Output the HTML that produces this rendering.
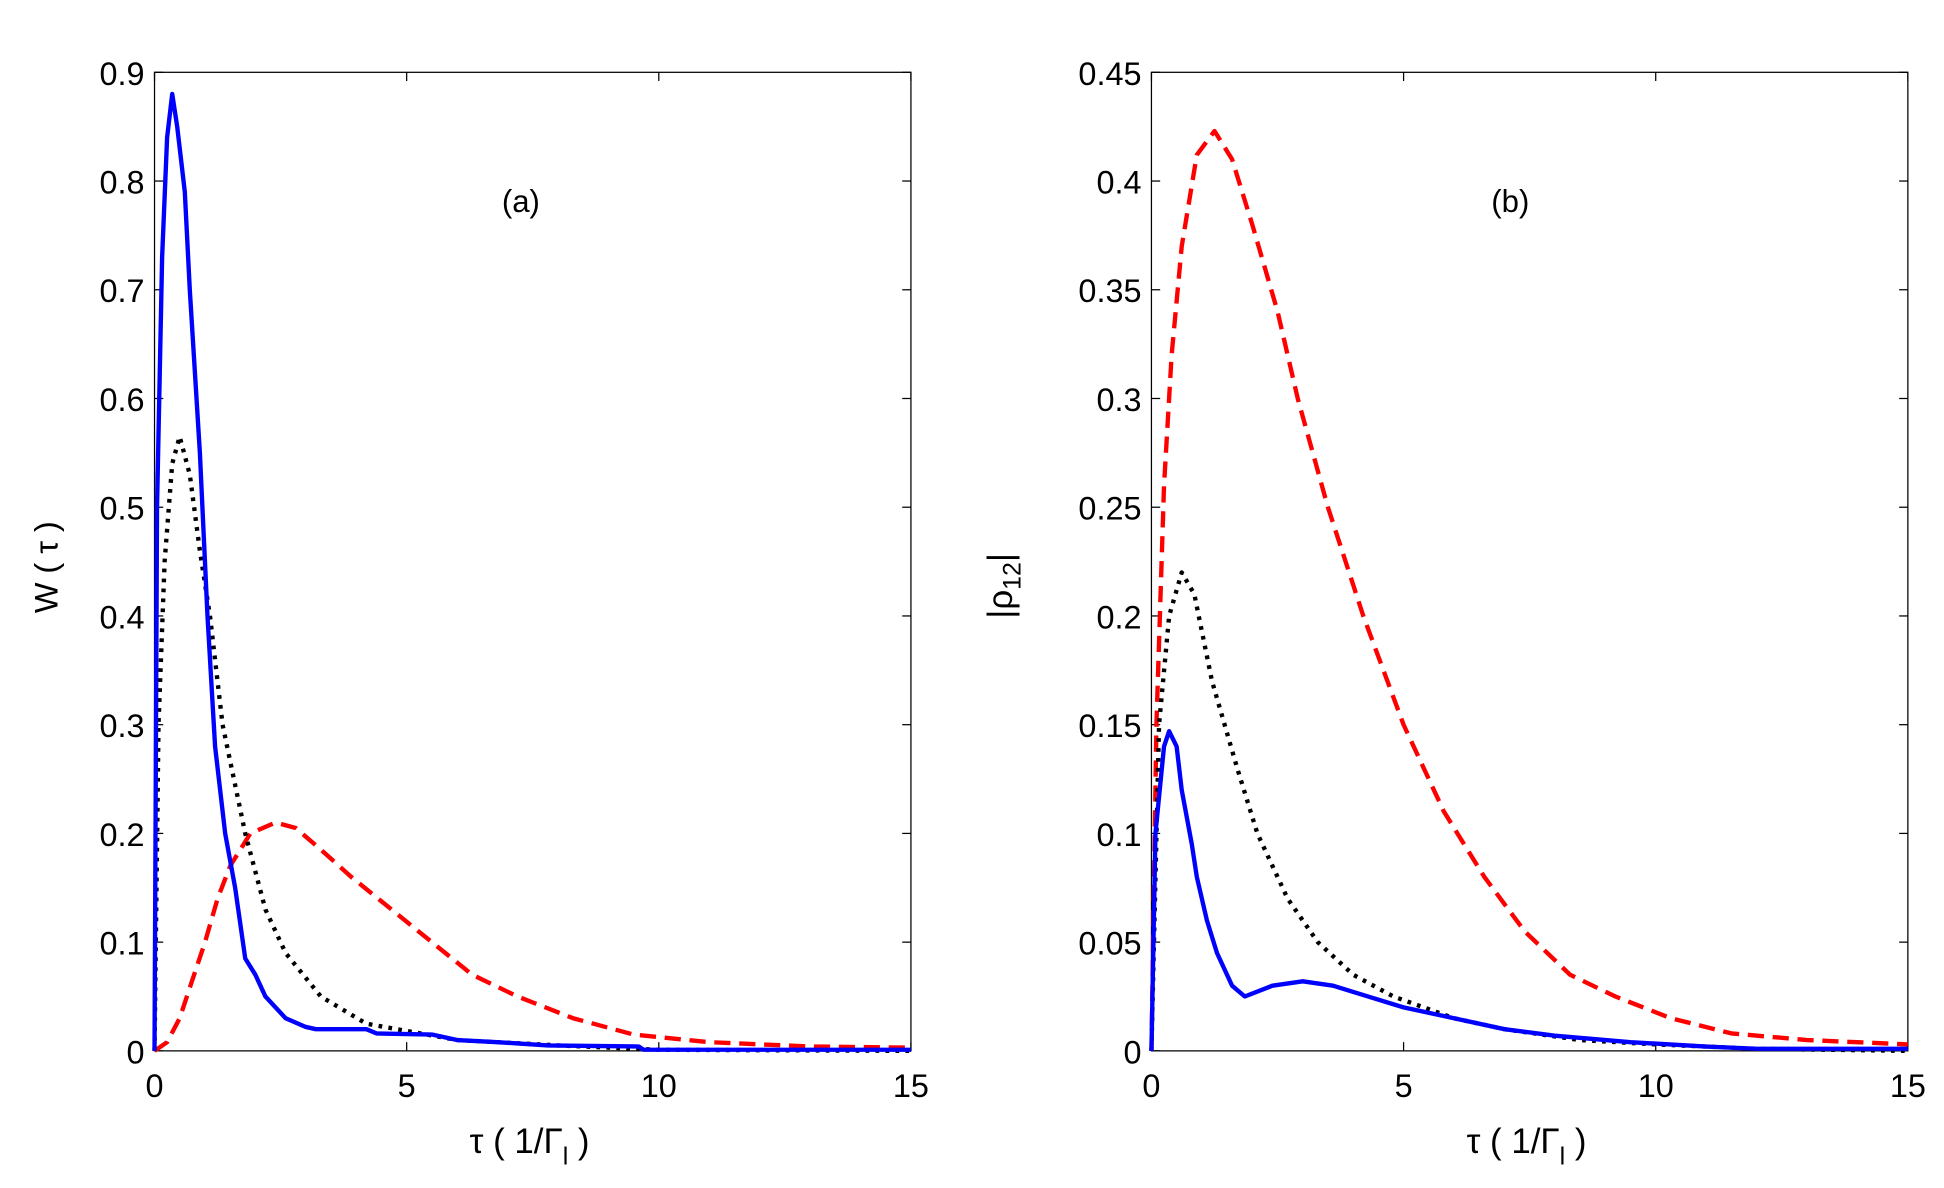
<!DOCTYPE html>
<html><head><meta charset="utf-8">
<style>
html,body{margin:0;padding:0;background:#fff;}
svg{display:block;}
text{font-family:"Liberation Sans",sans-serif;fill:#000;}
</style></head>
<body>
<svg id="s" width="1944" height="1188" viewBox="0 0 1560 953" preserveAspectRatio="none" xmlns="http://www.w3.org/2000/svg">
<g id="g"></g>
<text x="418" y="170" font-size="25" text-anchor="middle">(a)</text>
<text x="1212" y="170" font-size="25" text-anchor="middle">(b)</text>
<text transform="translate(46,455) rotate(-90)" font-size="26" text-anchor="middle">W ( τ )</text>
<text transform="translate(812,470) rotate(-90)" font-size="28" text-anchor="middle">|ρ<tspan font-size="20" dy="7">12</tspan><tspan dy="-7">|</tspan></text>
<text x="425" y="925" font-size="28" text-anchor="middle">τ ( 1/Γ<tspan font-size="20" dy="9">l</tspan><tspan dy="-9"> )</tspan></text>
<text x="1225" y="925" font-size="28" text-anchor="middle">τ ( 1/Γ<tspan font-size="20" dy="9">l</tspan><tspan dy="-9"> )</tspan></text>
</svg>
<script>
var g=document.getElementById('g'),NS="http://www.w3.org/2000/svg";
function el(t,a,txt){var e=document.createElementNS(NS,t);for(var k in a)e.setAttribute(k,a[k]);if(txt!=null)e.textContent=txt;g.appendChild(e);return e;}
function panel(x0,x1,ymax,yticks,fmt,series){
 var y0=843,yt=58;
 function X(v){return x0+(x1-x0)*v/15;} function Y(v){return y0-(y0-yt)*v/ymax;}
 el('rect',{x:x0,y:yt,width:x1-x0,height:y0-yt,fill:'none',stroke:'#000','stroke-width':1});
 [0,5,10,15].forEach(function(t){var x=X(t);
  el('line',{x1:x,y1:y0,x2:x,y2:y0-7,stroke:'#000','stroke-width':1});
  el('line',{x1:x,y1:yt,x2:x,y2:yt+7,stroke:'#000','stroke-width':1});
  el('text',{x:x,y:y0+37,'font-size':26,'text-anchor':'middle'},String(t));});
 yticks.forEach(function(t){var y=Y(t);
  el('line',{x1:x0,y1:y,x2:x0+7,y2:y,stroke:'#000','stroke-width':1});
  el('line',{x1:x1,y1:y,x2:x1-7,y2:y,stroke:'#000','stroke-width':1});
  el('text',{x:x0-8,y:y+10,'font-size':26,'text-anchor':'end'},fmt(t));});
 series.forEach(function(s){
  var p=s.d.map(function(q){return X(q[0]).toFixed(1)+','+Y(q[1]).toFixed(1);}).join(' ');
  var a={points:p,fill:'none',stroke:s.c,'stroke-width':3.5,'stroke-linejoin':'round'};
  if(s.da)a['stroke-dasharray']=s.da;
  el('polyline',a);});
}
var ya=[],yb=[];for(var i=0;i<=9;i++){ya.push(i/10);yb.push(i*0.05);}
panel(124,731,0.9,ya,function(t){return t==0?'0':t.toFixed(1);},[
 {c:'#ff0000',da:'13,7',d:[[0,0],[0.25,0.008],[0.5,0.03],[0.75,0.065],[1.0,0.1],[1.25,0.14],[1.5,0.17],[1.9,0.2],[2.4,0.21],[2.8,0.205],[3.3,0.185],[3.9,0.16],[4.7,0.13],[5.5,0.1],[6.3,0.07],[7.2,0.05],[8.3,0.03],[9.5,0.015],[11,0.008],[13,0.004],[15,0.003]]},
 {c:'#000',da:'3,5',d:[[0,0],[0.08,0.3],[0.2,0.45],[0.35,0.54],[0.5,0.565],[0.7,0.53],[0.9,0.46],[1.1,0.4],[1.35,0.3],[1.8,0.2],[2.2,0.13],[2.6,0.09],[3.3,0.05],[4.2,0.025],[6,0.01],[8,0.005],[10,0.001],[15,0]]},
 {c:'#0000ff',d:[[0,0],[0.05,0.5],[0.15,0.73],[0.25,0.84],[0.35,0.88],[0.45,0.85],[0.6,0.79],[0.7,0.7],[0.9,0.55],[1.05,0.4],[1.2,0.28],[1.4,0.2],[1.6,0.15],[1.8,0.085],[2.0,0.07],[2.2,0.05],[2.4,0.04],[2.6,0.03],[3.0,0.022],[3.2,0.02],[4.2,0.02],[4.4,0.016],[5.5,0.015],[6,0.01],[6.8,0.008],[7.8,0.005],[9.6,0.004],[9.7,0.001],[15,0.001]]}
]);
panel(924,1531,0.45,yb,function(t){if(t==0)return '0';var s=t.toFixed(2);return s.replace(/0$/,'');},[
 {c:'#ff0000',da:'13,7',d:[[0,0],[0.1,0.15],[0.25,0.26],[0.4,0.32],[0.6,0.37],[0.9,0.412],[1.25,0.423],[1.6,0.41],[2.0,0.38],[2.5,0.34],[2.9,0.3],[3.5,0.25],[4.2,0.2],[5.0,0.15],[5.8,0.11],[6.6,0.08],[7.4,0.055],[8.3,0.035],[9.2,0.025],[10.3,0.015],[11.5,0.008],[13,0.005],[15,0.003]]},
 {c:'#000',da:'3,5',d:[[0,0],[0.15,0.15],[0.35,0.2],[0.6,0.22],[0.85,0.21],[1.2,0.17],[1.7,0.13],[2.1,0.1],[2.7,0.07],[3.3,0.05],[4.0,0.035],[4.8,0.025],[6,0.015],[7,0.01],[8.5,0.005],[10,0.003],[12,0.001],[15,0]]},
 {c:'#0000ff',d:[[0,0],[0.08,0.1],[0.25,0.14],[0.35,0.147],[0.5,0.14],[0.6,0.12],[0.8,0.095],[0.9,0.08],[1.1,0.06],[1.3,0.045],[1.6,0.03],[1.85,0.025],[2.4,0.03],[3.0,0.032],[3.6,0.03],[4.3,0.025],[5.0,0.02],[6,0.015],[7,0.01],[8,0.007],[9.5,0.004],[11,0.002],[12,0.001],[15,0.001]]}
]);
</script>
</body></html>
